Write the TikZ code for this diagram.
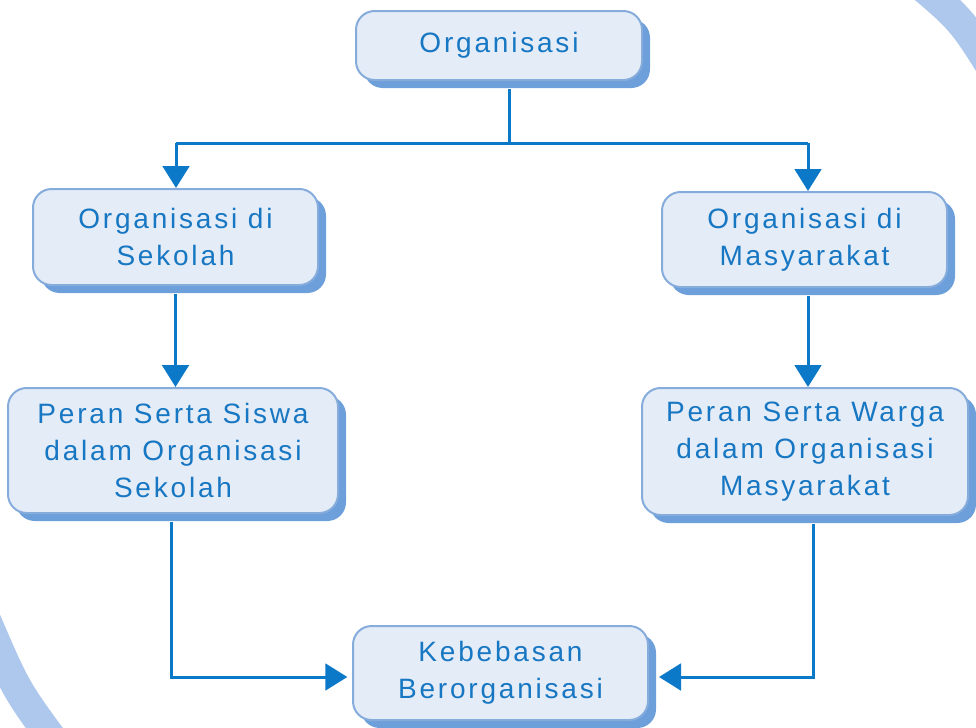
\documentclass[tikz,border=0pt]{standalone}
\usepackage{fontspec}
\setmainfont{Liberation Sans}[LetterSpace=10]
\usetikzlibrary{arrows.meta,shadows}
\definecolor{txtblue}{HTML}{1777C2}
\definecolor{lineblue}{HTML}{0C78C8}
\definecolor{boxfill}{HTML}{E4ECF8}
\definecolor{boxline}{HTML}{86ACDC}
\definecolor{shadowblue}{HTML}{6D9FDB}
\definecolor{ringblue}{HTML}{ADC8EC}
\begin{document}
\begin{tikzpicture}[x=0.75pt,y=-0.75pt,
  box/.style={draw=boxline, line width=1.5pt, fill=boxfill, rounded corners=14pt,
    align=center, text=txtblue, inner sep=0pt,
    font=\fontsize{21pt}{28pt}\selectfont,
    general shadow={shadow xshift=6pt, shadow yshift=-6pt, fill=shadowblue, draw=none}},
  conn/.style={draw=lineblue, line width=2.25pt},
  arr/.style={conn, -{Triangle[length=16.5pt,width=20pt]}},
  ring/.style={draw=ringblue, line width=22.5pt}]
\useasboundingbox (0,0) rectangle (976,728);
\begin{scope}
  \clip (0,0) rectangle (976,728);
  \draw[ring] (912,-22) .. controls (962,20) .. (998,78);
  \draw[ring] (-14,620) .. controls (16,690) .. (62,752);
\end{scope}
\node[box, minimum width=214.5pt, minimum height=51.75pt] (A) at (499,45.5) {Organisasi};
\node[box, minimum width=213.75pt, minimum height=72pt] (B) at (175.5,237) {Organisasi di\\Sekolah};
\node[box, minimum width=213.75pt, minimum height=71.25pt] (C) at (804.5,239.5) {Organisasi di\\Masyarakat};
\node[box, minimum width=247.5pt, minimum height=93.75pt] (D) at (173,450.5) {Peran Serta Siswa\\dalam Organisasi\\Sekolah};
\node[box, minimum width=244.5pt, minimum height=95.25pt] (E) at (805,451.5) {Peran Serta Warga\\dalam Organisasi\\Masyarakat};
\node[box, minimum width=221.25pt, minimum height=70.5pt] (F) at (500.5,673) {Kebebasan\\Berorganisasi};
\coordinate (jA) at (509,143);
\coordinate (jL) at (176,143);
\coordinate (jR) at (808,143);
\coordinate (jD) at (171,677);
\coordinate (jE) at (813,677);
\draw[conn] ([yshift=-6pt]A.south -| jA) -- (jA);
\draw[conn] (jL) -- (jR);
\draw[arr] (jL) -- (B.north -| jL);
\draw[arr] (jR) -- (C.north -| jR);
\draw[arr] ([yshift=-6pt]B.south) -- (B.south |- D.north);
\draw[arr] ([yshift=-6pt]C.south -| jR) -- (E.north -| jR);
\draw[arr] ([yshift=-6pt]D.south -| jD) -- (jD) -- ([xshift=-3.5pt]F.west |- jD);
\draw[arr] ([yshift=-6pt]E.south -| jE) -- (jE) -- ([xshift=7.5pt]F.east |- jE);
\end{tikzpicture}
\end{document}
